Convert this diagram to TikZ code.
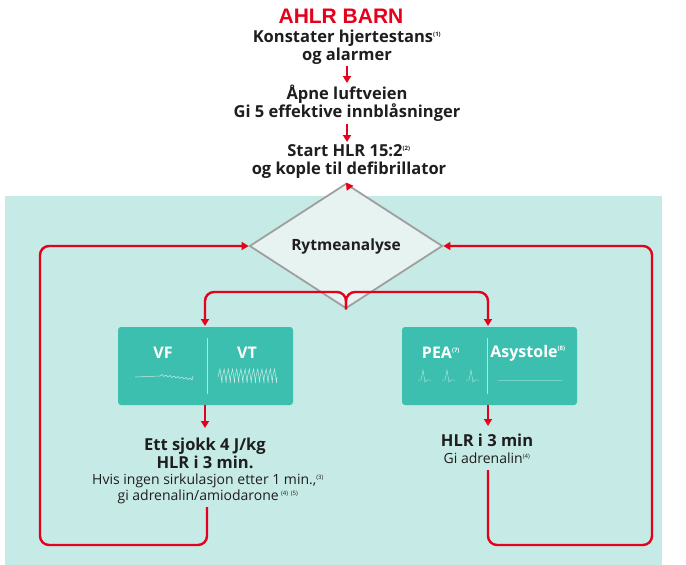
\documentclass[tikz,border=0pt]{standalone}
\usepackage{fontspec}
\setmainfont{Open Sans}
\newfontfamily\titlefont{Liberation Sans}
\usetikzlibrary{arrows.meta,shapes.geometric}

\definecolor{panelbg}{HTML}{C6EAE5}
\definecolor{rhythmfill}{HTML}{3DBFB0}
\definecolor{hlrred}{HTML}{E5001B}
\definecolor{darktext}{HTML}{1E1E1E}
\definecolor{diamondfill}{HTML}{E6F3F1}

\newcommand{\refnote}[1]{\textsuperscript{\fontsize{6}{6}\selectfont(#1)}}

\tikzset{
  steptext/.style={align=center, text=darktext, inner sep=1pt,
    font=\bfseries\fontsize{16.5}{18}\selectfont},
  notetext/.style={align=center, text=darktext, inner sep=1pt,
    font=\fontsize{14}{16}\selectfont},
  flow/.style={draw=hlrred, line width=2.4pt,
    -{Triangle[length=7pt,width=8pt]}},
  loopflow/.style={flow, rounded corners=9pt},
  rhythmbox/.style={fill=rhythmfill, rounded corners=3pt,
    minimum width=175pt, minimum height=78pt},
  rhythmlabel/.style={text=white, font=\bfseries\fontsize{16}{18}\selectfont},
  wave/.style={draw=white, opacity=0.7, line width=0.5pt}
}

\begin{document}
\begin{tikzpicture}[x=1pt,y=-1pt]
\useasboundingbox (0,0) rectangle (686,565);
\fill[white] (0,0) rectangle (686,565);
\fill[panelbg] (5,196) rectangle (662,565);

% top of the chain
\node[text=hlrred, inner sep=0pt, font=\titlefont\bfseries\fontsize{21}{24}\selectfont] (title) at (341,16) {AHLR BARN};
\node[steptext] (konst) at (347,47) {Konstater hjertestans\refnote{1}\\og alarmer};
\node[steptext] (luft) at (347,103) {Åpne luftveien\\Gi 5 effektive innblåsninger};
\node[steptext] (start) at (349,162) {Start HLR 15:2\refnote{2}\\og kople til defibrillator};

\node[diamond, draw=gray!75, line width=1.8pt, fill=diamondfill, minimum width=193pt,
  minimum height=76pt, inner sep=0pt, font=\bfseries\fontsize{15.5}{18}\selectfont,
  text=darktext] (rytme) at (346,246) {Rytmeanalyse};

\draw[flow] (347,66) -- (347,83);
\draw[flow] (347,124) -- (347,142);
\draw[flow] (347,184) -- (rytme.north);

% rhythm boxes
\node[rhythmbox] (vfvt) at (205.5,366) {};
\node[rhythmbox] (pea) at (489.5,366) {};
\draw[white, opacity=0.6, line width=0.6pt] (207,338) -- (207,394);
\draw[white, opacity=0.6, line width=0.6pt] (487,338) -- (487,394);
\node[rhythmlabel] (vf) at (163,353) {VF};
\node[rhythmlabel] (vt) at (247,353) {VT};
\node[rhythmlabel] (pealabel) at (441,353) {PEA\refnote{7}};
\node[rhythmlabel] (asys) at (528,353) {Asystole\refnote{8}};

% wave traces
\draw[wave] (135,377) -- (160,376)
  \foreach \i in {0,...,7} {-- ++(2,-1.5) -- ++(2,2)} -- (193,376);
\draw[wave] (218,377) \foreach \i in {0,...,13} {-- ++(2,-8) -- ++(2,14) -- ++(0.2,-6)};
\foreach \px in {418,442,466} {
  \draw[wave, opacity=0.5] (\px,380) -- ++(3,0) -- ++(2,-10) -- ++(2,12) -- ++(2,-2) -- ++(4,0);
}
\draw[wave, opacity=0.3] (498,380) -- (562,380);

\draw[loopflow] (rytme.south) -- (346,292) -| (205,326);
\draw[loopflow] (rytme.south) -- (346,292) -| (488,326);

% outcomes
\node[steptext] (sjokk) at (205,453) {Ett sjokk 4 J/kg\\HLR i 3 min.};
\node[notetext] (hvis) at (208,489) {Hvis ingen sirkulasjon etter 1 min.,\refnote{3}\\gi adrenalin/amiodarone\,\refnote{4}\,\refnote{5}};
\node[steptext] (hlr) at (487,440) {HLR i 3 min};
\node[notetext] (adren) at (487,458) {Gi adrenalin\refnote{4}};

\draw[flow] (205,405) -- (205,428);
\draw[flow] (488,405) -- (488,426);

% loops back to the analysis
\coordinate (lowleft) at (40,545);
\coordinate (lowright) at (652,545);
\draw[loopflow] (207,507) |- (lowleft) |- (rytme.west);
\draw[loopflow] (488,470) |- (lowright) |- (rytme.east);
\end{tikzpicture}
\end{document}
